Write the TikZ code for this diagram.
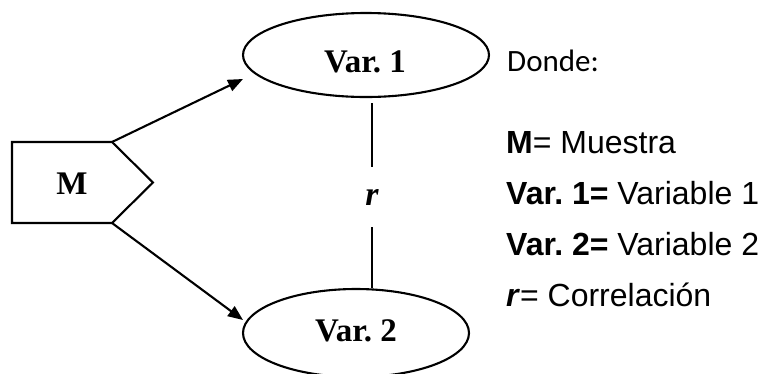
\documentclass[tikz,border=0pt]{standalone}
\usepackage{fontspec}
\setmainfont{Liberation Sans}
\newfontfamily\serifb{Liberation Serif}
\newfontfamily\calib{Carlito}
\usetikzlibrary{shapes.geometric,arrows.meta}
\frenchspacing
\tikzset{
  ln/.style={line width=2.1pt},
  arr/.style={ln,-{Triangle[length=15pt,width=12pt]}},
  oval/.style={ellipse,draw,ln,inner sep=0pt},
  sertxt/.style={font=\serifb\fontsize{33}{38}\selectfont\bfseries},
  legend/.style={anchor=base west,inner sep=0pt,font=\fontsize{32}{36}\selectfont}
}
\begin{document}
\begin{tikzpicture}[x=1pt,y=-1pt]
\useasboundingbox (0,0) rectangle (760,373);
% pentagon
\coordinate (p1) at (12,142);
\coordinate (p2) at (112,142);
\coordinate (p3) at (153,182.5);
\coordinate (p4) at (112,223);
\coordinate (p5) at (12,223);
\draw[ln,line join=miter] (p1) -- (p2) -- (p3) -- (p4) -- (p5) -- cycle;
\node[sertxt] (m) at (72,184) {M};
% ellipses
\node[oval,minimum width=246pt,minimum height=84pt] (v1) at (366,55) {};
\node[sertxt] (v1t) at (365,62) {Var. 1};
\node[oval,minimum width=226pt,minimum height=88pt] (v2) at (356,333) {};
\node[sertxt] (v2t) at (356,331) {Var. 2};
% r
\node[sertxt,font=\serifb\fontsize{34}{38}\selectfont\bfseries\itshape,minimum height=60pt,inner sep=0pt] (rn) at (372,197) {r};
\draw[ln,shorten >=5pt] (rn.north) -- (rn.north |- v1.south);
\draw[ln] (rn.south) -- (rn.south |- v2.north);
% arrows
\coordinate (e1) at (243,79);
\coordinate (e2) at (243,320);
\draw[arr] (p2) -- (e1);
\draw[arr] (p4) -- (e2);
% legend
\node[legend,font=\calib\fontsize{31}{36}\selectfont] (d) at (507,71) {Donde:};
\node[legend] (l1) at (506,153) {\textbf{M}= Muestra};
\node[legend] (l2) at (506,204) {\textbf{Var. 1=} Variable 1};
\node[legend] (l3) at (506,255) {\textbf{Var. 2=} Variable 2};
\node[legend] (l4) at (506,306) {\textbf{\itshape r}= Correlación};
\end{tikzpicture}
\end{document}
